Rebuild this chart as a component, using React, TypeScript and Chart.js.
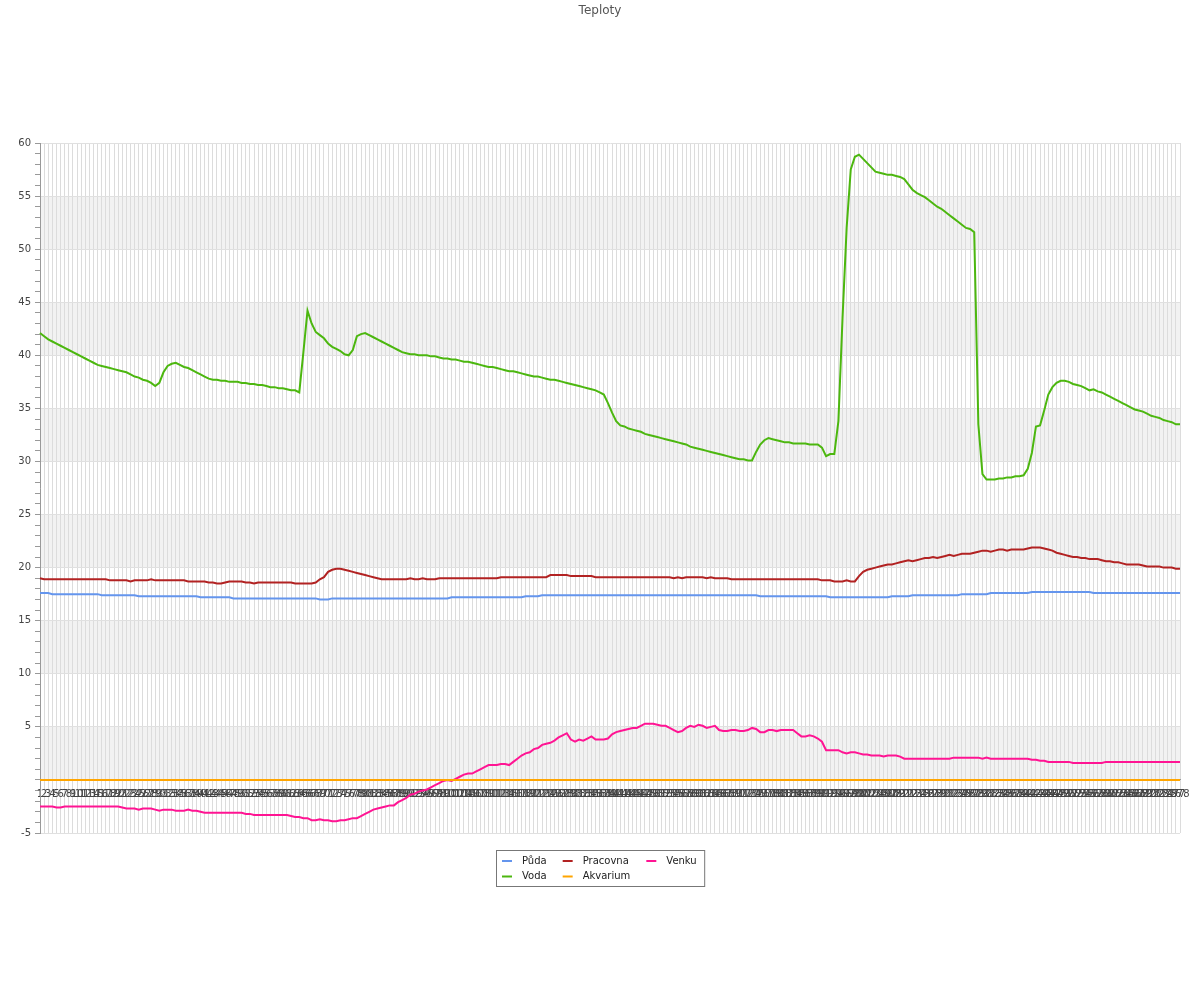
import React, { useEffect, useRef } from "react";
import { Chart, registerables } from "chart.js";

Chart.register(...registerables);

const TITLE = "Teploty";
const labels: string[] = Array.from({ length: 278 }, (_, i) => String(i + 1));

const puda = [
  17.6, 17.6, 17.6, 17.5, 17.5, 17.5, 17.5, 17.5, 17.5, 17.5,
  17.5, 17.5, 17.5, 17.5, 17.5, 17.4, 17.4, 17.4, 17.4, 17.4,
  17.4, 17.4, 17.4, 17.4, 17.3, 17.3, 17.3, 17.3, 17.3, 17.3,
  17.3, 17.3, 17.3, 17.3, 17.3, 17.3, 17.3, 17.3, 17.3, 17.2,
  17.2, 17.2, 17.2, 17.2, 17.2, 17.2, 17.2, 17.1, 17.1, 17.1,
  17.1, 17.1, 17.1, 17.1, 17.1, 17.1, 17.1, 17.1, 17.1, 17.1,
  17.1, 17.1, 17.1, 17.1, 17.1, 17.1, 17.1, 17.1, 17.0, 17.0,
  17.0, 17.1, 17.1, 17.1, 17.1, 17.1, 17.1, 17.1, 17.1, 17.1,
  17.1, 17.1, 17.1, 17.1, 17.1, 17.1, 17.1, 17.1, 17.1, 17.1,
  17.1, 17.1, 17.1, 17.1, 17.1, 17.1, 17.1, 17.1, 17.1, 17.1,
  17.2, 17.2, 17.2, 17.2, 17.2, 17.2, 17.2, 17.2, 17.2, 17.2,
  17.2, 17.2, 17.2, 17.2, 17.2, 17.2, 17.2, 17.2, 17.3, 17.3,
  17.3, 17.3, 17.4, 17.4, 17.4, 17.4, 17.4, 17.4, 17.4, 17.4,
  17.4, 17.4, 17.4, 17.4, 17.4, 17.4, 17.4, 17.4, 17.4, 17.4,
  17.4, 17.4, 17.4, 17.4, 17.4, 17.4, 17.4, 17.4, 17.4, 17.4,
  17.4, 17.4, 17.4, 17.4, 17.4, 17.4, 17.4, 17.4, 17.4, 17.4,
  17.4, 17.4, 17.4, 17.4, 17.4, 17.4, 17.4, 17.4, 17.4, 17.4,
  17.4, 17.4, 17.4, 17.4, 17.4, 17.3, 17.3, 17.3, 17.3, 17.3,
  17.3, 17.3, 17.3, 17.3, 17.3, 17.3, 17.3, 17.3, 17.3, 17.3,
  17.3, 17.3, 17.2, 17.2, 17.2, 17.2, 17.2, 17.2, 17.2, 17.2,
  17.2, 17.2, 17.2, 17.2, 17.2, 17.2, 17.2, 17.3, 17.3, 17.3,
  17.3, 17.3, 17.4, 17.4, 17.4, 17.4, 17.4, 17.4, 17.4, 17.4,
  17.4, 17.4, 17.4, 17.4, 17.5, 17.5, 17.5, 17.5, 17.5, 17.5,
  17.5, 17.6, 17.6, 17.6, 17.6, 17.6, 17.6, 17.6, 17.6, 17.6,
  17.6, 17.7, 17.7, 17.7, 17.7, 17.7, 17.7, 17.7, 17.7, 17.7,
  17.7, 17.7, 17.7, 17.7, 17.7, 17.7, 17.6, 17.6, 17.6, 17.6,
  17.6, 17.6, 17.6, 17.6, 17.6, 17.6, 17.6, 17.6, 17.6, 17.6,
  17.6, 17.6, 17.6, 17.6, 17.6, 17.6, 17.6, 17.6,
];

const voda = [
  42.1, 41.8, 41.5, 41.3, 41.1, 40.9, 40.7, 40.5, 40.3, 40.1,
  39.9, 39.7, 39.5, 39.3, 39.1, 39.0, 38.9, 38.8, 38.7, 38.6,
  38.5, 38.4, 38.2, 38.0, 37.9, 37.7, 37.6, 37.4, 37.1, 37.4,
  38.4, 39.0, 39.2, 39.3, 39.1, 38.9, 38.8, 38.6, 38.4, 38.2,
  38.0, 37.8, 37.7, 37.7, 37.6, 37.6, 37.5, 37.5, 37.5, 37.4,
  37.4, 37.3, 37.3, 37.2, 37.2, 37.1, 37.0, 37.0, 36.9, 36.9,
  36.8, 36.7, 36.7, 36.5, 40.3, 44.2, 43.0, 42.2, 41.9, 41.6,
  41.1, 40.8, 40.6, 40.4, 40.1, 40.0, 40.5, 41.8, 42.0, 42.1,
  41.9, 41.7, 41.5, 41.3, 41.1, 40.9, 40.7, 40.5, 40.3, 40.2,
  40.1, 40.1, 40.0, 40.0, 40.0, 39.9, 39.9, 39.8, 39.7, 39.7,
  39.6, 39.6, 39.5, 39.4, 39.4, 39.3, 39.2, 39.1, 39.0, 38.9,
  38.9, 38.8, 38.7, 38.6, 38.5, 38.5, 38.4, 38.3, 38.2, 38.1,
  38.0, 38.0, 37.9, 37.8, 37.7, 37.7, 37.6, 37.5, 37.4, 37.3,
  37.2, 37.1, 37.0, 36.9, 36.8, 36.7, 36.5, 36.3, 35.5, 34.6,
  33.8, 33.4, 33.3, 33.1, 33.0, 32.9, 32.8, 32.6, 32.5, 32.4,
  32.3, 32.2, 32.1, 32.0, 31.9, 31.8, 31.7, 31.6, 31.4, 31.3,
  31.2, 31.1, 31.0, 30.9, 30.8, 30.7, 30.6, 30.5, 30.4, 30.3,
  30.2, 30.2, 30.1, 30.1, 30.9, 31.6, 32.0, 32.2, 32.1, 32.0,
  31.9, 31.8, 31.8, 31.7, 31.7, 31.7, 31.7, 31.6, 31.6, 31.6,
  31.3, 30.5, 30.7, 30.7, 33.8, 43.5, 52.0, 57.5, 58.7, 58.9,
  58.5, 58.1, 57.7, 57.3, 57.2, 57.1, 57.0, 57.0, 56.9, 56.8,
  56.6, 56.1, 55.6, 55.3, 55.1, 54.9, 54.6, 54.3, 54.0, 53.8,
  53.5, 53.2, 52.9, 52.6, 52.3, 52.0, 51.9, 51.6, 33.5, 28.8,
  28.3, 28.3, 28.3, 28.4, 28.4, 28.5, 28.5, 28.6, 28.6, 28.7,
  29.3, 30.8, 33.3, 33.4, 34.8, 36.3, 37.0, 37.4, 37.6, 37.6,
  37.5, 37.3, 37.2, 37.1, 36.9, 36.7, 36.8, 36.6, 36.5, 36.3,
  36.1, 35.9, 35.7, 35.5, 35.3, 35.1, 34.9, 34.8, 34.7, 34.5,
  34.3, 34.2, 34.1, 33.9, 33.8, 33.7, 33.5, 33.5,
];

const pracovna = [
  19.0, 18.9, 18.9, 18.9, 18.9, 18.9, 18.9, 18.9, 18.9, 18.9,
  18.9, 18.9, 18.9, 18.9, 18.9, 18.9, 18.9, 18.8, 18.8, 18.8,
  18.8, 18.8, 18.7, 18.8, 18.8, 18.8, 18.8, 18.9, 18.8, 18.8,
  18.8, 18.8, 18.8, 18.8, 18.8, 18.8, 18.7, 18.7, 18.7, 18.7,
  18.7, 18.6, 18.6, 18.5, 18.5, 18.6, 18.7, 18.7, 18.7, 18.7,
  18.6, 18.6, 18.5, 18.6, 18.6, 18.6, 18.6, 18.6, 18.6, 18.6,
  18.6, 18.6, 18.5, 18.5, 18.5, 18.5, 18.5, 18.6, 18.9, 19.1,
  19.6, 19.8, 19.9, 19.9, 19.8, 19.7, 19.6, 19.5, 19.4, 19.3,
  19.2, 19.1, 19.0, 18.9, 18.9, 18.9, 18.9, 18.9, 18.9, 18.9,
  19.0, 18.9, 18.9, 19.0, 18.9, 18.9, 18.9, 19.0, 19.0, 19.0,
  19.0, 19.0, 19.0, 19.0, 19.0, 19.0, 19.0, 19.0, 19.0, 19.0,
  19.0, 19.0, 19.1, 19.1, 19.1, 19.1, 19.1, 19.1, 19.1, 19.1,
  19.1, 19.1, 19.1, 19.1, 19.3, 19.3, 19.3, 19.3, 19.3, 19.2,
  19.2, 19.2, 19.2, 19.2, 19.2, 19.1, 19.1, 19.1, 19.1, 19.1,
  19.1, 19.1, 19.1, 19.1, 19.1, 19.1, 19.1, 19.1, 19.1, 19.1,
  19.1, 19.1, 19.1, 19.1, 19.0, 19.1, 19.0, 19.1, 19.1, 19.1,
  19.1, 19.1, 19.0, 19.1, 19.0, 19.0, 19.0, 19.0, 18.9, 18.9,
  18.9, 18.9, 18.9, 18.9, 18.9, 18.9, 18.9, 18.9, 18.9, 18.9,
  18.9, 18.9, 18.9, 18.9, 18.9, 18.9, 18.9, 18.9, 18.9, 18.9,
  18.8, 18.8, 18.8, 18.7, 18.7, 18.7, 18.8, 18.7, 18.7, 19.2,
  19.6, 19.8, 19.9, 20.0, 20.1, 20.2, 20.3, 20.3, 20.4, 20.5,
  20.6, 20.7, 20.6, 20.7, 20.8, 20.9, 20.9, 21.0, 20.9, 21.0,
  21.1, 21.2, 21.1, 21.2, 21.3, 21.3, 21.3, 21.4, 21.5, 21.6,
  21.6, 21.5, 21.6, 21.7, 21.7, 21.6, 21.7, 21.7, 21.7, 21.7,
  21.8, 21.9, 21.9, 21.9, 21.8, 21.7, 21.6, 21.4, 21.3, 21.2,
  21.1, 21.0, 21.0, 20.9, 20.9, 20.8, 20.8, 20.8, 20.7, 20.6,
  20.6, 20.5, 20.5, 20.4, 20.3, 20.3, 20.3, 20.3, 20.2, 20.1,
  20.1, 20.1, 20.1, 20.0, 20.0, 20.0, 19.9, 19.9,
];

const akvarium = [
  0, 0, 0, 0, 0, 0, 0, 0, 0, 0, 0, 0, 0, 0, 0, 0, 0, 0, 0, 0,
  0, 0, 0, 0, 0, 0, 0, 0, 0, 0, 0, 0, 0, 0, 0, 0, 0, 0, 0, 0,
  0, 0, 0, 0, 0, 0, 0, 0, 0, 0, 0, 0, 0, 0, 0, 0, 0, 0, 0, 0,
  0, 0, 0, 0, 0, 0, 0, 0, 0, 0, 0, 0, 0, 0, 0, 0, 0, 0, 0, 0,
  0, 0, 0, 0, 0, 0, 0, 0, 0, 0, 0, 0, 0, 0, 0, 0, 0, 0, 0, 0,
  0, 0, 0, 0, 0, 0, 0, 0, 0, 0, 0, 0, 0, 0, 0, 0, 0, 0, 0, 0,
  0, 0, 0, 0, 0, 0, 0, 0, 0, 0, 0, 0, 0, 0, 0, 0, 0, 0, 0, 0,
  0, 0, 0, 0, 0, 0, 0, 0, 0, 0, 0, 0, 0, 0, 0, 0, 0, 0, 0, 0,
  0, 0, 0, 0, 0, 0, 0, 0, 0, 0, 0, 0, 0, 0, 0, 0, 0, 0, 0, 0,
  0, 0, 0, 0, 0, 0, 0, 0, 0, 0, 0, 0, 0, 0, 0, 0, 0, 0, 0, 0,
  0, 0, 0, 0, 0, 0, 0, 0, 0, 0, 0, 0, 0, 0, 0, 0, 0, 0, 0, 0,
  0, 0, 0, 0, 0, 0, 0, 0, 0, 0, 0, 0, 0, 0, 0, 0, 0, 0, 0, 0,
  0, 0, 0, 0, 0, 0, 0, 0, 0, 0, 0, 0, 0, 0, 0, 0, 0, 0, 0, 0,
  0, 0, 0, 0, 0, 0, 0, 0, 0, 0, 0, 0, 0, 0, 0, 0, 0, 0,
];

const venku = [
  -2.5, -2.5, -2.5, -2.5, -2.6, -2.6, -2.5, -2.5, -2.5, -2.5,
  -2.5, -2.5, -2.5, -2.5, -2.5, -2.5, -2.5, -2.5, -2.5, -2.5,
  -2.6, -2.7, -2.7, -2.7, -2.8, -2.7, -2.7, -2.7, -2.8, -2.9,
  -2.8, -2.8, -2.8, -2.9, -2.9, -2.9, -2.8, -2.9, -2.9, -3.0,
  -3.1, -3.1, -3.1, -3.1, -3.1, -3.1, -3.1, -3.1, -3.1, -3.1,
  -3.2, -3.2, -3.3, -3.3, -3.3, -3.3, -3.3, -3.3, -3.3, -3.3,
  -3.3, -3.4, -3.5, -3.5, -3.6, -3.6, -3.8, -3.8, -3.7, -3.8,
  -3.8, -3.9, -3.9, -3.8, -3.8, -3.7, -3.6, -3.6, -3.4, -3.2,
  -3.0, -2.8, -2.7, -2.6, -2.5, -2.4, -2.4, -2.1, -1.9, -1.7,
  -1.4, -1.3, -1.1, -1.0, -0.9, -0.7, -0.5, -0.3, -0.1, 0.0,
  -0.1, 0.1, 0.3, 0.5, 0.6, 0.6, 0.8, 1.0, 1.2, 1.4,
  1.4, 1.4, 1.5, 1.5, 1.4, 1.7, 2.0, 2.3, 2.5, 2.6,
  2.9, 3.0, 3.3, 3.4, 3.5, 3.7, 4.0, 4.2, 4.4, 3.8,
  3.6, 3.8, 3.7, 3.9, 4.1, 3.8, 3.8, 3.8, 3.9, 4.3,
  4.5, 4.6, 4.7, 4.8, 4.9, 4.9, 5.1, 5.3, 5.3, 5.3,
  5.2, 5.1, 5.1, 4.9, 4.7, 4.5, 4.6, 4.9, 5.1, 5.0,
  5.2, 5.1, 4.9, 5.0, 5.1, 4.7, 4.6, 4.6, 4.7, 4.7,
  4.6, 4.6, 4.7, 4.9, 4.8, 4.5, 4.5, 4.7, 4.7, 4.6,
  4.7, 4.7, 4.7, 4.7, 4.4, 4.1, 4.1, 4.2, 4.1, 3.9,
  3.6, 2.8, 2.8, 2.8, 2.8, 2.6, 2.5, 2.6, 2.6, 2.5,
  2.4, 2.4, 2.3, 2.3, 2.3, 2.2, 2.3, 2.3, 2.3, 2.2,
  2.0, 2.0, 2.0, 2.0, 2.0, 2.0, 2.0, 2.0, 2.0, 2.0,
  2.0, 2.0, 2.1, 2.1, 2.1, 2.1, 2.1, 2.1, 2.1, 2.0,
  2.1, 2.0, 2.0, 2.0, 2.0, 2.0, 2.0, 2.0, 2.0, 2.0,
  2.0, 1.9, 1.9, 1.8, 1.8, 1.7, 1.7, 1.7, 1.7, 1.7,
  1.7, 1.6, 1.6, 1.6, 1.6, 1.6, 1.6, 1.6, 1.6, 1.7,
  1.7, 1.7, 1.7, 1.7, 1.7, 1.7, 1.7, 1.7, 1.7, 1.7,
  1.7, 1.7, 1.7, 1.7, 1.7, 1.7, 1.7, 1.7,
];

const seriesNames = ["Půda", "Voda", "Pracovna", "Akvarium", "Venku"];
const seriesColors = ["#6495ed", "#4cb70f", "#b22222", "#ffa500", "#ff1493"];
const seriesData = [puda, voda, pracovna, akvarium, venku];
const bandRanges = [[0, 5], [10, 15], [20, 25], [30, 35], [40, 45], [50, 55]];

const FONT = "'DejaVu Sans', sans-serif";

export default function App() {
  const ref = useRef<HTMLCanvasElement>(null);

  useEffect(() => {
    document.body.style.margin = "0";
    const canvas = ref.current;
    if (!canvas) return;

    const bandsPlugin = {
      id: "bands",
      beforeDraw(chart: any) {
        const { ctx, chartArea } = chart;
        const y = chart.scales.y;
        ctx.save();
        ctx.fillStyle = "#f2f2f2";
        for (const [a, b] of bandRanges) {
          const y1 = y.getPixelForValue(b);
          const y2 = y.getPixelForValue(a);
          ctx.fillRect(chartArea.left, y1, chartArea.right - chartArea.left, y2 - y1);
        }
        ctx.restore();
      },
    };

    const titleLegendPlugin = {
      id: "titleLegend",
      afterDraw(chart: any) {
        const { ctx, chartArea } = chart;
        ctx.save();
        ctx.font = `12px ${FONT}`;
        ctx.fillStyle = "#555";
        ctx.textAlign = "center";
        ctx.textBaseline = "middle";
        ctx.fillText(TITLE, chart.width / 2, 11);

        ctx.font = `10px ${FONT}`;
        const cols: number[][] = [];
        seriesNames.forEach((_, k) => {
          const c = Math.floor(k / 2);
          (cols[c] = cols[c] || []).push(k);
        });
        const colW = cols.map((ks) => 20 + Math.max(...ks.map((k) => ctx.measureText(seriesNames[k]).width)));
        const gap = 16;
        const padL = 5.5;
        const padR = 8;
        const boxW = padL + colW.reduce((s, w) => s + w, 0) + gap * (cols.length - 1) + padR;
        const boxH = 36;
        const bx = Math.round(chart.width / 2 - boxW / 2) + 0.5;
        const by = Math.round(chartArea.bottom + 17) + 0.5;
        ctx.strokeStyle = "#777";
        ctx.lineWidth = 1;
        ctx.strokeRect(bx, by, boxW, boxH);
        let cx = bx + padL;
        cols.forEach((ks, c) => {
          ks.forEach((k, r) => {
            const yy = by + 10.5 + r * 15.5;
            ctx.strokeStyle = seriesColors[k];
            ctx.lineWidth = 2;
            ctx.beginPath();
            ctx.moveTo(cx, yy);
            ctx.lineTo(cx + 10, yy);
            ctx.stroke();
            ctx.fillStyle = "#222";
            ctx.textAlign = "left";
            ctx.textBaseline = "middle";
            ctx.fillText(seriesNames[k], cx + 20, yy);
          });
          cx += colW[c] + gap;
        });
        ctx.restore();
      },
    };

    const chart = new Chart(canvas, {
      type: "line",
      data: {
        labels,
        datasets: seriesData.map((d, k) => ({
          label: seriesNames[k],
          data: d,
          borderColor: seriesColors[k],
          backgroundColor: seriesColors[k],
          borderWidth: 2,
          pointRadius: 0,
          tension: 0,
          fill: false,
        })),
      },
      options: {
        responsive: false,
        animation: false,
        devicePixelRatio: 1,
        layout: { padding: { left: 0, right: 20, top: 143, bottom: 167 } },
        plugins: {
          legend: { display: false },
          title: { display: false },
          tooltip: { enabled: false },
        },
        scales: {
          x: {
            type: "category",
            position: { y: 0 } as any,
            offset: false,
            grid: { color: "#dcdcdc", lineWidth: 1, drawTicks: false },
            border: { display: true, color: "#999", width: 1 },
            ticks: {
              autoSkip: false,
              maxRotation: 0,
              minRotation: 0,
              padding: 8,
              color: "#444",
              font: { family: FONT, size: 10 },
            },
          },
          y: {
            type: "linear",
            min: -5,
            max: 60,
            afterFit: (s: any) => {
              s.width = 40;
            },
            grid: {
              color: (c: any) => (c.tick && c.tick.value % 5 === 0 ? "#e0e0e0" : "rgba(0,0,0,0)"),
              tickColor: "#999",
              tickLength: 5,
              drawTicks: true,
            },
            border: { display: true, color: "#999", width: 1 },
            ticks: {
              stepSize: 1,
              autoSkip: false,
              padding: 4,
              color: "#444",
              font: { family: FONT, size: 10 },
              callback: (v: any) => (v % 5 === 0 && v !== 0 ? String(v) : ""),
            },
          },
        },
      },
      plugins: [bandsPlugin, titleLegendPlugin],
    });

    return () => chart.destroy();
  }, []);

  return (
    <div style={{ width: 1200, height: 1000 }}>
      <canvas ref={ref} width={1200} height={1000} style={{ display: "block" }} />
    </div>
  );
}
